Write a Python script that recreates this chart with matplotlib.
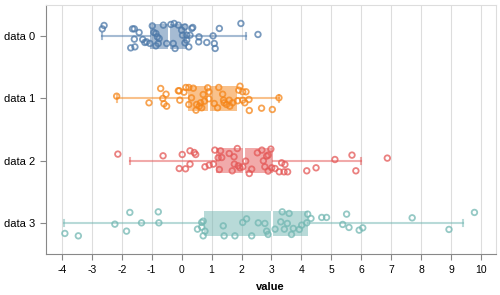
import matplotlib
matplotlib.use('Agg')
import matplotlib.pyplot as plt
import numpy as np

plt.rcParams['font.family'] = ['Liberation Sans', 'DejaVu Sans']

categories = ['data 0', 'data 1', 'data 2', 'data 3']
colors = ['#4c78a8', '#f58518', '#e45756', '#72b7b2']

# point values, with their vertical jitter (px) in the band
values0 = [-2.59, -2.65, -1.64, -1.58, -1.42, -1.58, -1.70, -1.56, -1.30, -1.23, -1.17, -1.06,
           -0.98, -0.93, -0.86, -0.81, -0.75, -0.78, -0.86, -0.61, -0.50, -0.36, -0.25, -0.11,
           -0.28, -0.22, 0.00, 0.11, 0.03, 0.17, 0.28, 0.11, 0.17, 0.24, 0.37, 0.34, 0.58, 0.57,
           0.84, 1.05, 1.09, 1.12, 1.26, 1.98, 2.55]
jitter0 = [-10.7, -7.3, -7.3, -7.3, -3.7, 3, 11.7, 10.7, 3.3, 6.3, 5.7, 7.3,
           -10.3, -3.7, -2.7, 0.7, 2.3, 7.3, 9.7, -11, 7.3, -11.7, -12.7, -11,
           7.3, 12.3, -6, -9.3, -1, -1, -1, 6.7, 4, 10.7, -8.7, -7.7, 0.7, 5.7,
           6.3, -0.3, 7.3, 12.3, -7.7, -12.7, -1.7]

values1 = [-2.17, -1.09, -0.70, -0.52, -0.63, -0.59, -0.50, -0.11, -0.08, -0.06, 0.08, 0.14,
           0.24, 0.39, 0.33, 0.24, 0.48, 0.50, 0.59, 0.63, 0.67, 0.72, 0.76, 0.87, 0.91, 0.91,
           1.09, 1.20, 1.24, 1.37, 1.40, 1.42, 1.50, 1.59, 1.61, 1.70, 1.87, 1.95, 1.91, 2.04,
           2.15, 2.04, 2.11, 2.25, 2.26, 2.67, 3.03, 3.25]
jitter1 = [-2.3, 4.3, -10, -4.3, 0, 5.3, 7.7, -7.7, -7.7, 1.7, -6.3, -11,
           -11, -10.3, -0.7, 6, 11.7, 6, 7.7, 4.3, 9.3, -4, 2.7, -10.7, -6.7, 0.3,
           5, 9.3, -11, -4.3, 1.7, 4.3, 6, 1.7, 7.7, 4.3, 2.3, -12.3, -8.3, -6.7,
           -6.7, 1.7, 4.3, 1, 12, 9.7, 11, -0.7]

values2 = [-2.13, -0.62, 0.02, 0.28, 0.42, 0.47, 0.28, -0.08, 0.13, 0.78, 0.92, 1.06,
           1.11, 1.30, 1.22, 1.34, 1.26, 1.59, 1.75, 1.86, 1.76, 1.69, 1.89, 1.95, 2.04,
           2.14, 2.26, 2.34, 2.53, 2.68, 2.98, 2.73, 2.84, 2.89, 2.78, 2.89, 3.01, 3.12,
           3.26, 3.34, 3.45, 3.42, 3.54, 4.18, 4.49, 5.12, 5.69, 5.82, 6.87]
jitter2 = [-6.7, -5, -6.3, -10, -8.3, -6.3, 3.3, 7.7, 8, 6, 4.3, 3.3,
           -10.7, -10, -3, -3.3, 8.7, -7.3, -4, -12.3, 3.3, 10, 5, 7, 6,
           0.3, 12.7, 8.3, -8, -10.7, -11.7, 0, -4.7, -5.7, 6, 10.3, 7, 7.7,
           11, 2, 3.7, 11, 11, 10, 7, -1.3, -5.7, 10, -2.7]

values3 = [-3.90, -3.45, -2.23, -1.84, -1.73, -1.34, -0.78, -0.76, 0.53, 0.67, 0.72, 0.67,
           0.78, 0.72, 1.39, 1.42, 1.78, 2.04, 2.17, 2.34, 2.56, 2.78, 2.84, 2.89, 3.12,
           3.31, 3.36, 3.43, 3.53, 3.59, 3.67, 3.73, 3.93, 4.01, 4.18, 4.21, 4.32, 4.68,
           4.84, 5.38, 5.51, 5.59, 5.93, 6.05, 7.70, 8.93, 9.78]
jitter3 = [10.3, 12.7, 1, 8, -10.7, -0.3, -11.3, -0.3, 6, -0.7, -2, 4,
           8, 12.7, 2.7, 12.7, 12.7, -0.7, -4.3, 12.7, -0.3, 0.3, 8, 11.3, 6,
           -1.3, -11.3, 6, 0.3, -9.7, 11.3, 5.3, 6.3, 2, -0.3, -9, -4.7, -5.7,
           -5.7, 1.3, -9, 4.3, 7, 4.7, -5.3, 6.3, -10.7]

# box statistics
q1 = [-1.06, 0.22, 1.15, 0.75]
median = [-0.41, 0.92, 2.08, 3.03]
q3 = [0.17, 1.84, 3.06, 4.21]
whisker_lo = [-2.65, -2.17, -1.73, -3.93]
whisker_hi = [2.14, 3.25, 5.99, 9.41]

values = [values0, values1, values2, values3]
jitters = [jitter0, jitter1, jitter2, jitter3]

fig = plt.figure(figsize=(5, 2.95), dpi=100)
ax = fig.add_axes([45.7 / 500, 1 - 254.3 / 295, 450 / 500, 249.3 / 295])
band_px = 249.3 / 4

for i in range(4):
    c = colors[i]
    stats = [dict(q1=q1[i], med=median[i], q3=q3[i], whislo=whisker_lo[i], whishi=whisker_hi[i])]
    ax.bxp(stats, positions=[i], vert=False, widths=0.4, patch_artist=True, showfliers=False,
           boxprops=dict(facecolor=c, edgecolor='none', alpha=0.5),
           medianprops=dict(color='white', linewidth=1.5),
           whiskerprops=dict(color=c, alpha=0.5, linewidth=1.5),
           capprops=dict(color=c, alpha=0.5, linewidth=1.5), capwidths=0.1,
           zorder=2)
    y = i + np.array(jitters[i]) / band_px
    ax.scatter(values[i], y, s=16, facecolors='none', edgecolors=c, linewidths=1.3,
               alpha=0.75, zorder=3)

ax.set_xlim(-4.54, 10.49)
ax.set_ylim(3.5, -0.5)
ax.set_xticks(np.arange(-4, 11, 1))
ax.set_xticklabels([str(t) for t in range(-4, 11)])
ax.set_yticks(range(4))
ax.set_yticklabels(categories)
ax.grid(axis='x', color='#dddddd', linewidth=0.8, zorder=0)
ax.set_axisbelow(True)

for side in ['top', 'right']:
    ax.spines[side].set_color('#dddddd')
    ax.spines[side].set_linewidth(0.8)
for side in ['left', 'bottom']:
    ax.spines[side].set_color('#888888')
    ax.spines[side].set_linewidth(0.8)
ax.tick_params(colors='#888888', length=4, width=0.8, labelcolor='black', labelsize=7.5)
ax.tick_params(axis='y', labelsize=8)
ax.set_xlabel('value', fontsize=8, fontweight='bold', labelpad=5)
ax.set_ylabel('')

fig.savefig('out.png', dpi=100)
